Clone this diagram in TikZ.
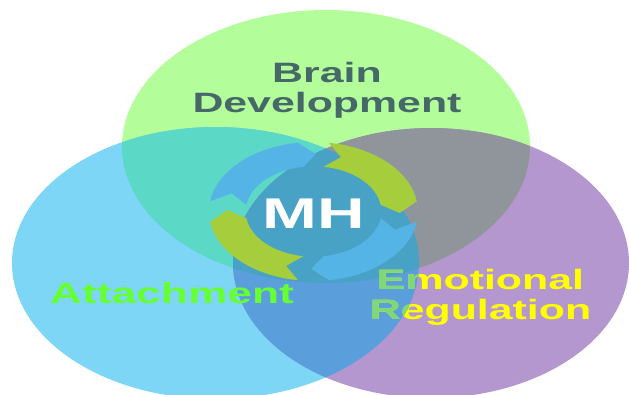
\documentclass[tikz,border=0pt]{standalone}
\usepackage{fontspec}
\setmainfont{Liberation Sans}
\definecolor{gfill}{RGB}{179,254,154}
\definecolor{bfill}{RGB}{125,214,246}
\definecolor{pfill}{RGB}{180,151,206}
\definecolor{gbfill}{RGB}{91,216,198}
\definecolor{gpfill}{RGB}{144,149,156}
\definecolor{bpfill}{RGB}{90,159,219}
\definecolor{gbpfill}{RGB}{72,162,197}
\definecolor{arrblue}{RGB}{85,180,230}
\definecolor{arrgreen}{RGB}{166,205,59}
\definecolor{braintxt}{RGB}{70,104,104}
\definecolor{attachtxt}{RGB}{102,255,51}
\definecolor{emotxt}{RGB}{255,255,0}
\definecolor{emoblend}{RGB}{126,216,122}
\newcommand\cycarrow[2]{%
  \fill[#2] ({cos(#1)},{sin(#1)})
    arc[start angle=#1, end angle=#1-73, x radius=104.5pt, y radius=69.5pt]
    -- ({0.825*cos(#1-83)},{0.825*sin(#1-83)})
    -- ({0.65*cos(#1-73)},{0.65*sin(#1-73)})
    arc[start angle=#1-73, end angle=#1, x radius=67.9pt, y radius=45.2pt]
    -- ({0.825*cos(#1-10)},{0.825*sin(#1-10)}) -- cycle;}
\newcommand\gellipse{(326,146.5) ellipse [x radius=204pt, y radius=136.5pt]}
\newcommand\bellipse{(215.5,263) ellipse [x radius=203.5pt, y radius=136pt]}
\newcommand\pellipse{(431,263) ellipse [x radius=198pt, y radius=135pt]}
\tikzset{
  lbl/.style={font=\fontsize{28}{30}\selectfont\bfseries, xscale=1.53, align=center, anchor=base, inner sep=0pt}
}
\begin{document}
\begin{tikzpicture}[x=1pt,y=-1pt]
\useasboundingbox (0,0) rectangle (629,394);
% base circles
\fill[gfill] \gellipse;
\fill[bfill] \bellipse;
\fill[pfill] \pellipse;
% pairwise overlaps
\begin{scope}
  \clip \gellipse;
  \fill[gbfill] \bellipse;
  \fill[gpfill] \pellipse;
\end{scope}
\begin{scope}
  \clip \bellipse;
  \fill[bpfill] \pellipse;
\end{scope}
\begin{scope}
  \clip \gellipse;
  \clip \bellipse;
  \fill[gbpfill] \pellipse;
\end{scope}
% Emotional Regulation (partly seen through the blue circle)
\node[lbl, text=emotxt] (emo) at (480.5,319) {Emotional\\Regulation};
\begin{scope}
  \clip \bellipse;
  \node[lbl, text=emoblend] (emob) at (480.5,319) {Emotional\\Regulation};
\end{scope}
% cycle arrows
\begin{scope}[shift={(313.5,211.5)}, x=104.5pt, y=69.5pt]
  \cycarrow{171.5}{arrblue}
  \cycarrow{81.5}{arrgreen}
  \cycarrow{-8.5}{arrblue}
  \cycarrow{-98.5}{arrgreen}
\end{scope}
% labels
\node[lbl, text=braintxt] (brain) at (327,112) {Brain\\Development};
\node[lbl, text=white, font=\fontsize{43}{45}\selectfont\bfseries] (mh) at (313.5,228) {MH};
\node[lbl, text=attachtxt, font=\fontsize{29}{31}\selectfont\bfseries] (attach) at (172,303) {Attachment};
\end{tikzpicture}
\end{document}
